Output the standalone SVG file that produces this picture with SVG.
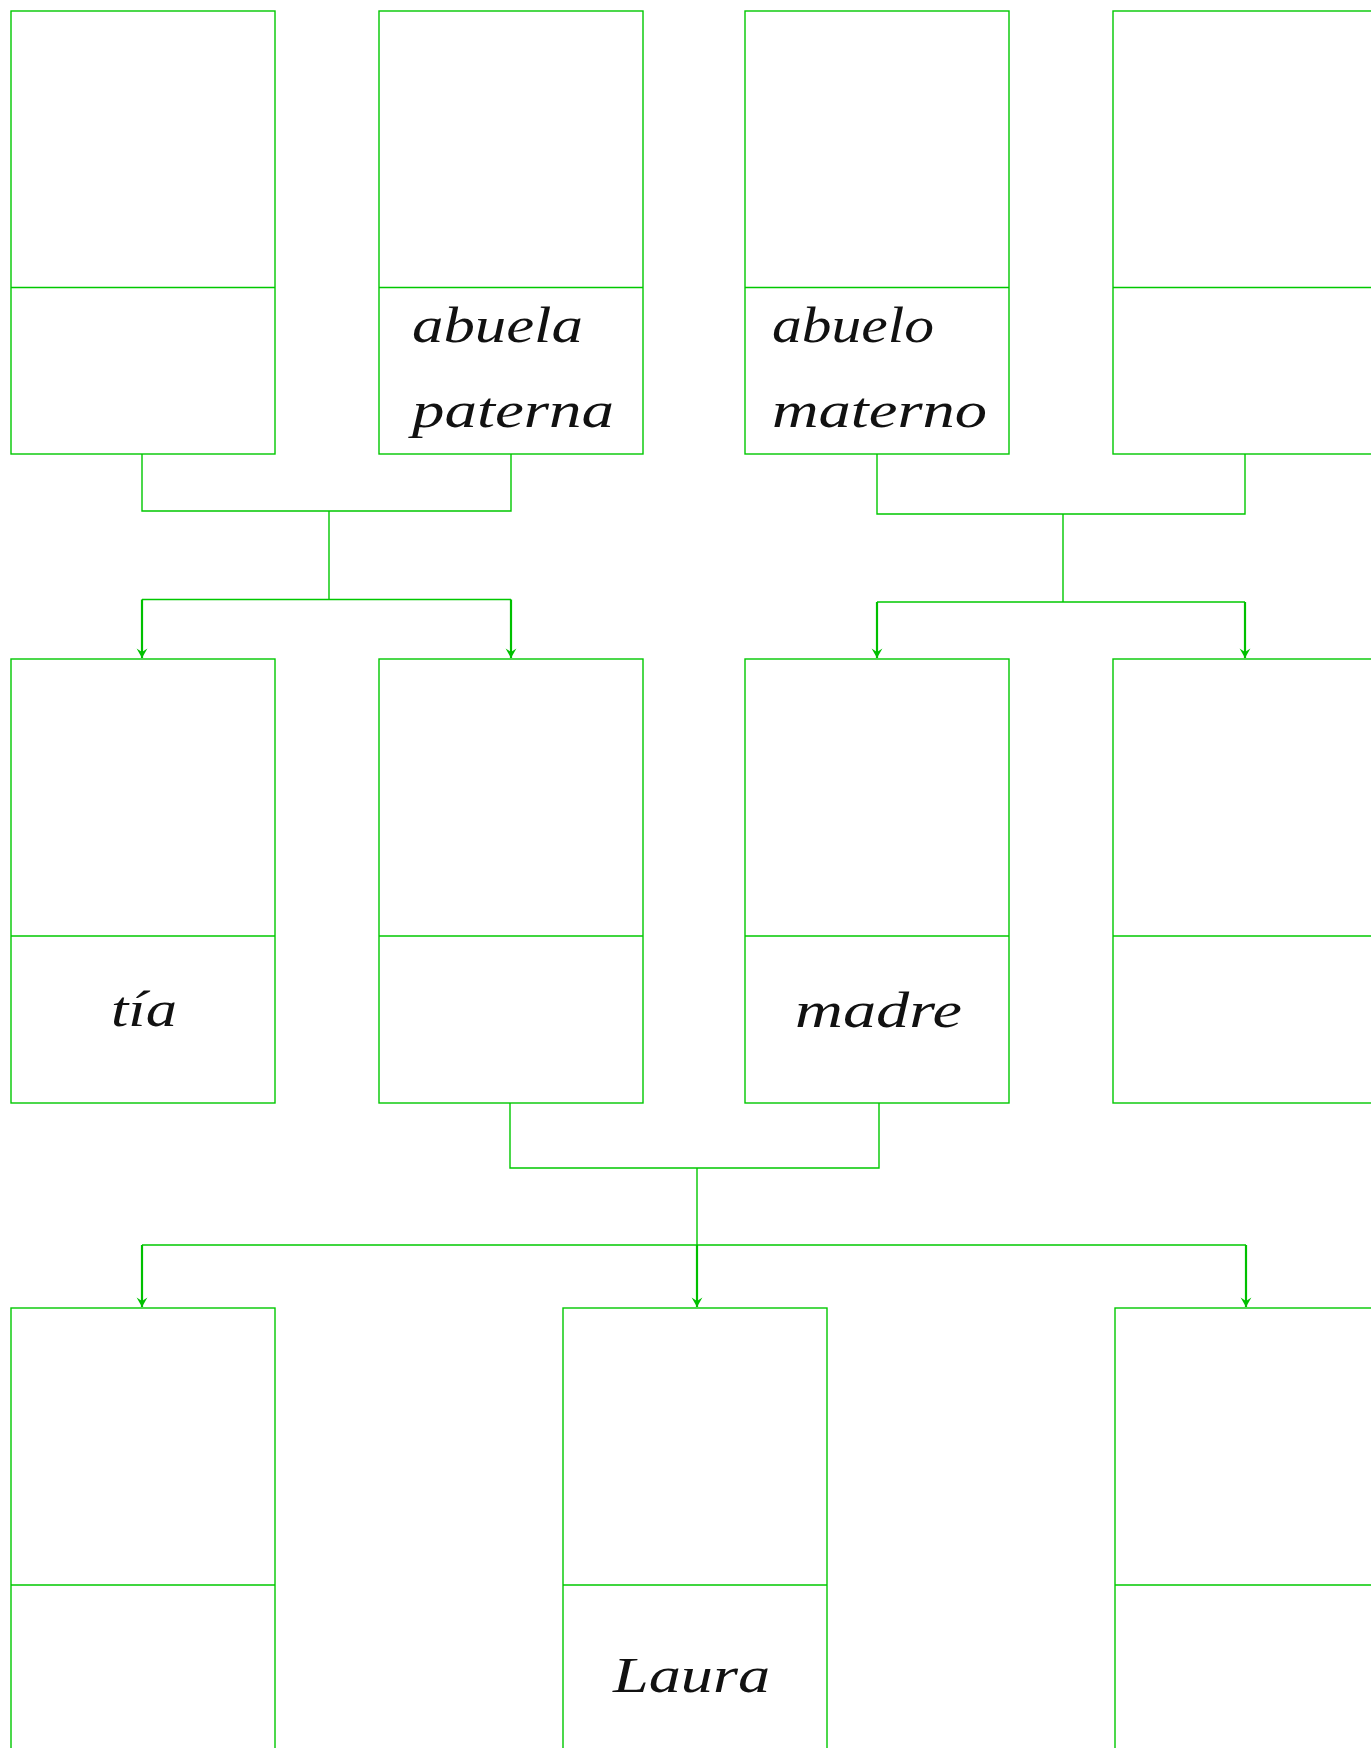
<svg xmlns="http://www.w3.org/2000/svg" width="1371" height="1748" viewBox="0 0 1371 1748">
<style>
.box{fill:#ffffff;stroke:#00c800;stroke-width:1.4}
.div{stroke:#00c800;stroke-width:1.4}
.con{fill:none;stroke:#00c800;stroke-width:1.4}
.arr{stroke:#00c000;stroke-width:2.2}
.lbl{font-family:"Liberation Serif",serif;font-style:italic;font-size:50px;fill:#111111}
</style>
<defs>
<marker id="ahd" markerUnits="userSpaceOnUse" markerWidth="12" markerHeight="12" viewBox="0 0 10 10" refX="5" refY="10" orient="0">
<path d="M0.5,2 L5,10 L9.5,2 L5,5 Z" fill="#00c000"/>
</marker>
</defs>
<rect width="1371" height="1748" fill="#ffffff"/>
<g id="connectors">
<path class="con" d="M142,454 V511 H511 V454"/>
<path class="con" d="M329,511 V599.5"/>
<path class="con" d="M142,599.5 H511"/>
<path class="con" d="M877,454 V514 H1245 V454"/>
<path class="con" d="M1063,514 V602"/>
<path class="con" d="M877,602 H1245"/>
<path class="con" d="M510,1103 V1168 H879 V1103"/>
<path class="con" d="M697,1168 V1245"/>
<path class="con" d="M142,1245 H1246"/>
<line class="arr" x1="142" y1="599.5" x2="142" y2="658" marker-end="url(#ahd)"/>
<line class="arr" x1="511" y1="599.5" x2="511" y2="658" marker-end="url(#ahd)"/>
<line class="arr" x1="877" y1="602" x2="877" y2="658" marker-end="url(#ahd)"/>
<line class="arr" x1="1245" y1="602" x2="1245" y2="658" marker-end="url(#ahd)"/>
<line class="arr" x1="142" y1="1245" x2="142" y2="1307" marker-end="url(#ahd)"/>
<line class="arr" x1="697" y1="1245" x2="697" y2="1307" marker-end="url(#ahd)"/>
<line class="arr" x1="1246" y1="1245" x2="1246" y2="1307" marker-end="url(#ahd)"/>
</g>
<g id="n1"><rect class="box" x="11" y="11" width="264" height="443"/><line class="div" x1="11" y1="287.5" x2="275" y2="287.5"/></g>
<g id="n2"><rect class="box" x="379" y="11" width="264" height="443"/><line class="div" x1="379" y1="287.5" x2="643" y2="287.5"/>
<text class="lbl" x="412" y="342" textLength="171" lengthAdjust="spacingAndGlyphs">abuela</text>
<text class="lbl" x="412" y="427" textLength="202" lengthAdjust="spacingAndGlyphs">paterna</text></g>
<g id="n3"><rect class="box" x="745" y="11" width="264" height="443"/><line class="div" x1="745" y1="287.5" x2="1009" y2="287.5"/>
<text class="lbl" x="772" y="342" textLength="162" lengthAdjust="spacingAndGlyphs">abuelo</text>
<text class="lbl" x="772" y="427" textLength="215" lengthAdjust="spacingAndGlyphs">materno</text></g>
<g id="n4"><rect class="box" x="1113" y="11" width="264" height="443"/><line class="div" x1="1113" y1="287.5" x2="1377" y2="287.5"/></g>
<g id="n5"><rect class="box" x="11" y="659" width="264" height="444"/><line class="div" x1="11" y1="936" x2="275" y2="936"/>
<text class="lbl" x="111" y="1026" textLength="66" lengthAdjust="spacingAndGlyphs">tía</text></g>
<g id="n6"><rect class="box" x="379" y="659" width="264" height="444"/><line class="div" x1="379" y1="936" x2="643" y2="936"/></g>
<g id="n7"><rect class="box" x="745" y="659" width="264" height="444"/><line class="div" x1="745" y1="936" x2="1009" y2="936"/>
<text class="lbl" x="795" y="1027" textLength="167" lengthAdjust="spacingAndGlyphs">madre</text></g>
<g id="n8"><rect class="box" x="1113" y="659" width="264" height="444"/><line class="div" x1="1113" y1="936" x2="1377" y2="936"/></g>
<g id="n9"><rect class="box" x="11" y="1308" width="264" height="444"/><line class="div" x1="11" y1="1585" x2="275" y2="1585"/></g>
<g id="n10"><rect class="box" x="563" y="1308" width="264" height="444"/><line class="div" x1="563" y1="1585" x2="827" y2="1585"/>
<text class="lbl" x="613" y="1692" textLength="157" lengthAdjust="spacingAndGlyphs">Laura</text></g>
<g id="n11"><rect class="box" x="1115" y="1308" width="264" height="444"/><line class="div" x1="1115" y1="1585" x2="1379" y2="1585"/></g>
</svg>
